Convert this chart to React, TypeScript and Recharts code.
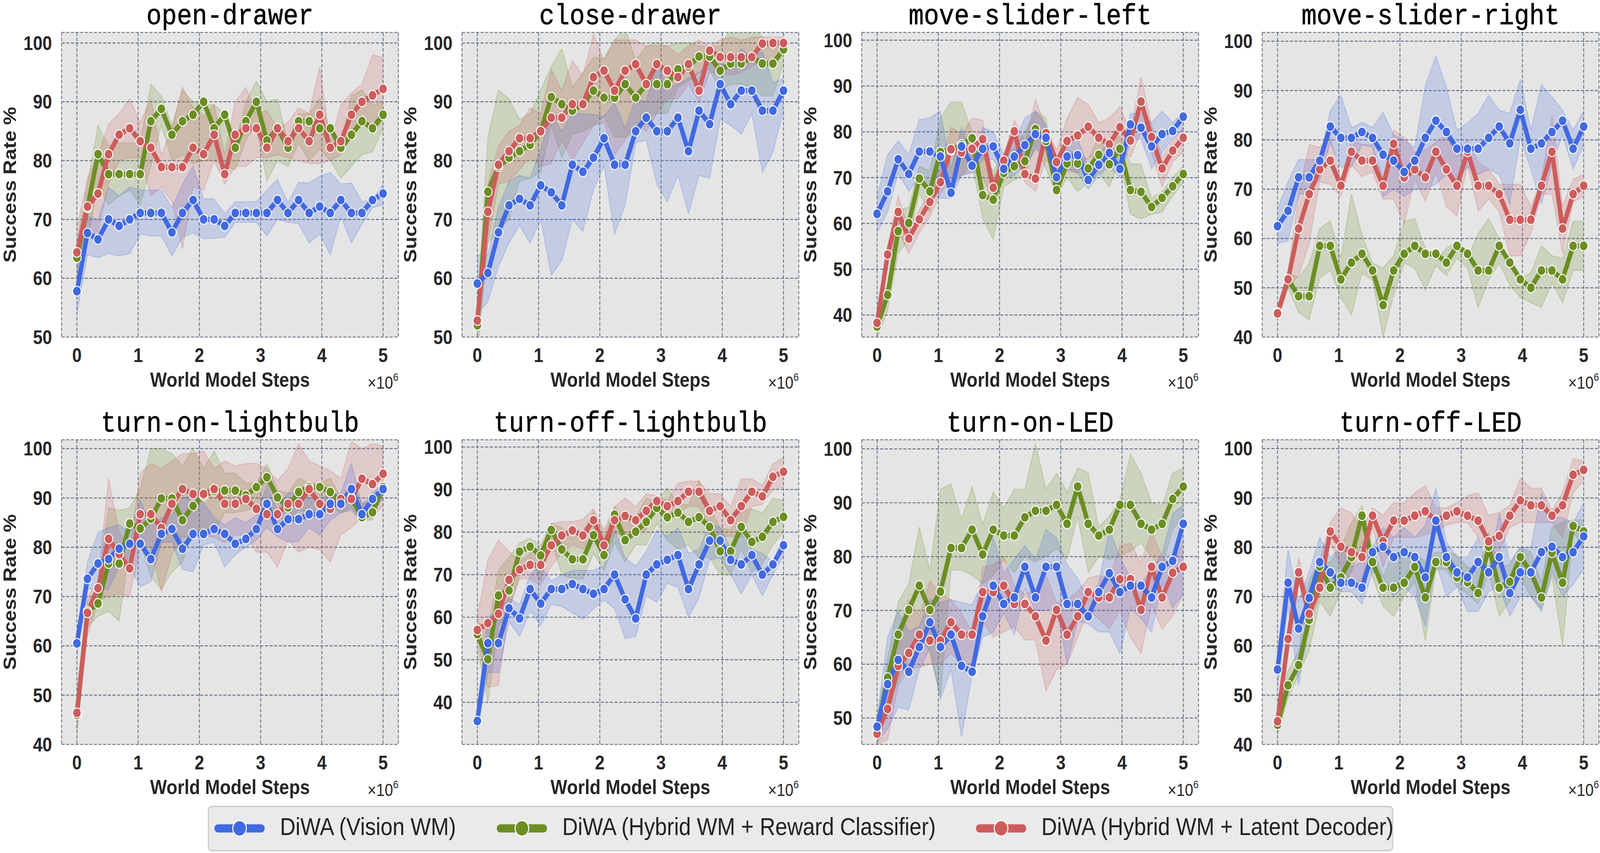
import React from "react";
import { Area, CartesianGrid, ComposedChart, Line, XAxis, YAxis } from "recharts";

const BLUE = "#4169E1";
const GREEN = "#6B8E23";
const RED = "#CD5C5C";

// world model steps at which every run was evaluated
const steps = [
  0, 172414, 344828, 517241, 689655, 862069, 1034483, 1206897, 1379310, 1551724,
  1724138, 1896552, 2068966, 2241379, 2413793, 2586207, 2758621, 2931034, 3103448, 3275862,
  3448276, 3620690, 3793103, 3965517, 4137931, 4310345, 4482759, 4655172, 4827586, 5000000,
];
const xTicks = [0, 1000000, 2000000, 3000000, 4000000, 5000000];

// ---- open-drawer
const openDrawerVision = [57.8,67.7,66.6,70.0,68.9,70.0,71.1,71.1,71.1,67.8,71.1,73.3,70.0,70.0,68.9,71.1,71.1,71.1,71.1,73.3,71.1,73.3,71.1,72.2,71.1,73.3,71.1,71.1,73.3,74.4];
const openDrawerVisionHi = [62,70.5,70,75.5,74,75.5,75,75,75,72,76,79,73.5,73.5,71,73,73,73,75,76.8,72.8,76.3,76.2,77.3,78,76,76.2,73,73.3,76];
const openDrawerVisionLo = [54,64,63.5,64.2,63.8,64.2,67.5,67.2,67.2,63.8,67,67.7,66.7,66.8,67,69.5,69.5,69.5,67.2,70,69.5,69.3,66,67.5,64,70.5,66,69.2,72,72.5];
const openDrawerReward = [63.5,72,81.1,77.7,77.7,77.7,77.7,86.7,88.8,84.4,86.7,87.8,90.0,85.5,87.8,82.2,86.7,90.0,83.4,85.5,82.2,86.7,86.7,85.5,85.5,82.2,84.4,86.7,85.5,87.8];
const openDrawerRewardHi = [66,76,86,82.5,83,83,83,93,91,86,92,90,89.5,89.5,88,83,90,93.5,90,90.5,83,88,88,90.5,85,83,91,92,89.5,90];
const openDrawerRewardLo = [58,66,76,72.5,74,75,72.5,79,86,80,81,79.5,80,80,79,78.5,83.5,86,76.5,80,79,83,80,82,80,77,79,81,81.5,85.5];
const openDrawerLatent = [64.4,72.2,74.4,81.1,84.4,85.5,83.3,82.2,78.9,78.9,78.9,82.2,81.1,84.4,77.7,84.4,85.5,85.5,82.2,85.5,83.3,85.5,83.3,87.8,82.2,83.3,87.8,90.0,91.1,92.2];
const openDrawerLatentHi = [68.5,77,81,86.2,88,90.5,86.5,90.5,81,85.5,92.5,89,87.5,89.5,81,90,92.5,88,88.5,85.5,86.5,89,88,96,83,89.5,91.5,93,98,97.5];
const openDrawerLatentLo = [60,67,68,76,80,80.5,80.5,74,75.5,73,65,75.5,75,80,76,79,79,80.5,80.5,81,80.5,80,79.5,79.5,80,81,84,87,84.5,87];

// ---- close-drawer
const closeDrawerVision = [59.1,60.9,67.8,72.4,73.5,72.4,75.8,74.6,72.4,79.3,78.1,80.5,83.8,79.3,79.3,85.0,87.3,85.0,85.0,87.3,81.6,88.5,86.2,93.0,89.6,91.9,91.9,88.5,88.5,91.9];
const closeDrawerVisionHi = [64,64,72,76.5,77.5,77,82,87.8,85,88,88,87.8,87.5,89.8,85.5,90.5,90,96.5,92.5,93,94,95,96.5,96.5,96,99,97.5,98.5,93.2,94];
const closeDrawerVisionLo = [54,56,62,66,69,66,70,60.5,63,70,68,75,79.2,67.5,72.5,83,83.5,76,73,77.5,71,77.5,77,87,86,84.5,88,78,81.5,88.5];
const closeDrawerReward = [52,74.7,79,80.5,81.6,82.7,85.0,90.8,89.6,88.5,89.6,91.9,90.7,90.7,93.0,90.7,93.0,93.0,93.0,95.5,96,97.7,97.7,95.3,96.5,96.5,97.6,96.5,96.5,98.9];
const closeDrawerRewardHi = [55,84,92,90.5,87,88,92,96,99,92.5,95,97.5,97.5,100.5,102.5,97,99.5,100,99.5,100,100,99.5,99.5,99.5,102.5,103,103,101,98.5,101];
const closeDrawerRewardLo = [47,66,68,70,76.5,77,78,86,80.5,84.5,85,86,87.5,84,84,85,87,88,88,92.5,93.5,95,95.5,92,93,93,92.5,91,91,96.5];
const closeDrawerLatent = [52.8,71.3,79.3,81.6,83.8,83.8,85.0,87.3,87.3,89.6,89.6,94.2,95.3,91.9,95.3,96.4,93.0,96.4,95.3,94.2,96.4,91.9,98.7,97.6,97.6,97.6,97.6,99.9,100,100];
const closeDrawerLatentHi = [56,76,82.5,85,86,89,88,95.5,92,97,94.5,101.5,97,100.5,100.5,100.5,99.5,99.5,99.5,98,99.5,100.5,99.5,100.5,101,100.5,101,101,101,101];
const closeDrawerLatentLo = [50,66,76,76.5,78.5,80.5,79,79.5,83.5,80,83,86,86.5,81,83.5,86.5,85,88,90.5,90.5,93,90,95,95,94.5,95,96,97,97,99];

// ---- move-slider-left
const sliderLeftVision = [62.1,67.0,74.0,70.8,75.7,75.7,74.6,66.7,76.8,72.6,76.3,76.8,71.9,74.6,77.1,79.5,78.7,70.1,74.6,74.9,69.5,72.8,75.4,71.9,81.6,80.9,76.8,79.5,80.2,83.3];
const sliderLeftVisionHi = [66,75,78,75,82.7,83,84.5,72,81,74.5,81,80,75,78,83,84.5,81.5,73,78.5,78.5,72.5,75,78,73.5,84,84,82,84.5,82,84.3];
const sliderLeftVisionLo = [58,62.5,71,67,70,66.5,65.5,65.5,70.5,71,74,74,70,70.5,73,76,76,67,72,71,67.5,70.5,72.5,70,78,78.5,72,75.5,78.5,80.5];
const sliderLeftReward = [37.5,44.4,58.3,60.1,69.8,67.0,75.6,76,77.2,78.6,66.2,65.2,71,72.5,73.6,80.6,78,67.3,73.1,73.1,72.0,75.0,72.9,76.3,67.3,66.9,63.6,65.6,68.1,70.8];
const sliderLeftRewardHi = [40,47,63,63.5,72.5,71.5,83,86.5,86.5,80,75,71.5,75,76.5,80,84.5,83,69,76,75,74,79,78,79,73,73,65.5,67,70,72.5];
const sliderLeftRewardLo = [35,41,53.5,56.5,66.5,62.5,70.5,68,70.5,73,61,56.5,68,69.5,70.5,77,72,66,70,67,69,71,68,74,62,61,62,62.5,66,69];
const sliderLeftLatent = [38.3,53.2,62.5,56.7,60.9,64.7,69.0,76.2,75.5,76.3,78.4,67.8,73.7,80.1,70.8,69.8,79.7,73.4,78.0,79.2,81.1,78.7,77.3,81.0,78.1,86.6,78.9,72.0,75.9,78.7];
const sliderLeftLatentHi = [40.5,55,66,59,63,67,72.5,81,79.5,83,82.5,70,75,82.5,78,87,81,76,83,87.5,86,82,83,85.5,80,92,81.5,74.5,78,81];
const sliderLeftLatentLo = [36,51,58.5,53.5,58,61.5,66.5,70,70.5,71.5,70,65,71.5,75.5,69,67,74,71,71.5,71,74.5,74.5,72.5,76,74.5,80,75.5,68,73.5,75.5];

// ---- move-slider-right
const sliderRightVision = [62.5,65.6,72.4,72.4,75.8,82.7,80.4,80.4,81.6,80.4,77.0,75.8,73.5,75.8,80.4,83.9,81.6,78.2,78.2,78.2,80.4,82.7,79.3,86.1,78.2,79.3,81.6,83.9,78.2,82.7];
const sliderRightVisionHi = [66,71.5,76,76,76,86,89,82.5,83.5,82.5,85.6,81,80,78.5,91,97,90.7,82,83.4,85.4,89,86,85.4,92.2,82,91.2,88.7,86,82,85.9];
const sliderRightVisionLo = [59,59.5,69,69,72,79.5,74.5,74.5,79,78.5,68.5,70,68.5,70,70,71,73,72,74.5,73,74,73,67,80.5,74,67,75,81,74,79];
const sliderRightReward = [45,51.7,48.3,48.3,58.5,58.5,51.7,55.1,56.9,53.5,46.5,53.5,56.9,58.5,56.9,56.9,55.1,58.5,56.9,53.5,53.5,58.5,55.1,51.7,50.0,53.5,53.5,51.7,58.5,58.5];
const sliderRightRewardHi = [46,53,52,55,62,63.5,56,69,60.8,55,54,56.5,63.5,64,58,55.5,58,59.5,56,61,64,60,55,52,53,58.5,56.5,56,63.5,63.5];
const sliderRightRewardLo = [43.5,50,45,43.5,52,53.5,48,44.5,53,51.5,40,48.5,55,54,49.5,54.5,52.5,56,54,46,51.5,55,50.5,48,47,46,51,47,53.5,53.5];
const sliderRightLatent = [44.8,51.7,62.0,69.0,74.0,75.8,70.7,77.6,75.8,75.8,70.7,79.2,72.4,74.0,72.4,77.6,74.0,70.7,77.6,70.7,70.7,69.0,63.8,63.8,63.8,70.7,77.6,62.0,69.0,70.7];
const sliderRightLatentHi = [46,53,69,79,78.5,80.5,72,80,79,79,72,82,80.5,77.5,78,79.5,81,76.5,80,75.5,74,71,71,71,66.5,72,85,66.5,72,73];
const sliderRightLatentLo = [43.5,50,52.5,59,71.5,71,68.5,75,72.5,73.5,68,68,63,72,67.5,73.5,66.5,64.5,75,65.5,68,65.5,56.5,56.5,61,69,69,57,67.5,68.5];

// ---- turn-on-lightbulb
const bulbOnVision = [60.5,73.6,76.7,77.6,79.7,80.7,80.7,77.6,82.7,83.7,79.7,82.7,82.7,83.7,82.7,80.7,81.7,83.7,88.8,83.7,85.7,85.7,86.7,86.7,88.8,88.8,91.8,86.7,89.8,91.8];
const bulbOnVisionHi = [63,77,83,84,84.5,83,89.5,84.5,86,86.5,90,90.5,89,86,84.5,86,85,86.5,92.5,87.5,91,91,90,90,90.5,91,97,88.5,91,93];
const bulbOnVisionLo = [58,71.5,71.5,71.5,76,76,72,73,81,81,75.5,75,80.5,81,76,78.5,80,81.5,84,82.2,81,81.2,84,82.5,85.5,87,87.5,85,87,90];
const bulbOnReward = [46,67,68.6,76.7,76.7,84.8,83.8,85.8,89.9,89.9,85.5,88.4,90.5,91.4,91.5,91.5,90.5,92.2,94.2,90.1,88.1,91.2,92.2,92.2,91.2,89.0,90,86.1,87.1,92.2];
const bulbOnRewardHi = [48,69,72,88,87.5,88,92,100,100,99,96.5,100,96,99.5,95,95,93,93,97,91.5,91,94,93,93,94,90,93,89,89,93.5];
const bulbOnRewardLo = [42,64,66,67,65,80,81,74,71.5,75,77,83,83,83,87,87,87.5,88,88,86,85.5,87.5,87,87.5,88.5,87,88,85.5,85.5,91];
const bulbOnLatent = [46.4,66.7,71.7,81.7,78.6,75.7,86.7,86.7,83.9,88.8,91.8,90.8,90.8,91.8,88.8,88.8,89.8,87.8,86.7,86.7,88.8,88.8,91.8,88.8,87.8,89.8,89.8,93.9,92.8,94.9];
const bulbOnLatentHi = [48,70,73,94,83,80,95,97,96,97.5,99,99,99.5,96,97.5,96.5,97,97,96,93.5,96,101,97.5,96.5,95.5,94,101.5,100,101,100.5];
const bulbOnLatentLo = [43,62,69,70,70.5,70,80,80,71,78.5,82,82.5,82.5,82,81,82.5,82.5,79,79,76,81.5,79,80,79.5,77,82.5,84,86,86,88.5];

// ---- turn-off-lightbulb
const bulbOffVision = [35.6,53.9,53.9,62.1,59.7,66.6,63.2,66.6,66.6,67.8,66.6,65.5,66.6,70.0,64.2,59.7,70.0,72.4,73.5,74.6,66.6,72.4,78.0,78.0,73.5,72.4,74.6,70.0,72.4,76.9];
const bulbOffVisionHi = [38,60,61.5,64.5,63,70,72,68.5,70,71,71,71,72,80.5,74,72,75.5,80.5,79,81,75,76,82,81,76,79.5,76,75,73,79];
const bulbOffVisionLo = [33.5,47,47,59,55.5,61.5,58,63,62.5,61,59.5,62,64,62,55,55.5,65,63.5,68,67,60,64.5,73.5,74,70,65.5,70,65,70,74.5];
const bulbOffReward = [56,50.1,65.1,66.3,75.4,76.6,74.5,80.5,75.9,73.6,73.6,79.3,74.6,84.1,78.1,80.1,82.4,85.7,83.5,84.6,82.4,83.5,81.2,75.5,75.5,81.2,77.7,78.9,82.4,83.6];
const bulbOffRewardHi = [59,57,71,74,77.5,78.5,77,82,81,78.5,80,85,79,86,83,83.5,88,87,90.5,86.5,86.5,92,86,81,80.5,85,85.5,84.5,88,87.5];
const bulbOffRewardLo = [53,40,58,61.5,70,74,68.5,78,70,69,69,75,71,77.5,73,77,77,82,78,76,77,74,74,70,70,76,70.5,72.5,77,80];
const bulbOffLatent = [57.0,58.6,60.8,68.8,71.2,72.3,72.3,76.9,79.2,80.4,79.2,82.8,76.9,82.8,83.8,82.8,85.0,87.3,86.1,87.3,89.5,89.5,85.0,86.1,82.8,86.1,89.5,88.4,93.0,94.2];
const bulbOffLatentHi = [60,73.5,78,75.5,73,75,76,82,82.5,82.5,83,85.5,80.5,86,88,86,89,88.5,87.5,91.5,92,92,89,89,86,92.5,92.5,91,96,97.5];
const bulbOffLatentLo = [55,43.5,44,62,69,69,67.5,72,75,77,76,79.5,73.5,79.5,79.5,79,80.5,86,84.5,84.5,86,86,80,79,79,79,86,86.5,90,90.5];

// ---- turn-on-LED
const ledOnVision = [48.4,56.3,60.8,58.6,63.2,67.8,63.2,65.5,59.7,58.6,68.9,74.6,71.2,72.4,78.1,72.4,78.1,78.1,71.2,71.2,68.9,73.4,76.9,73.4,74.6,74.6,72.4,78.1,79.2,86.1];
const ledOnVisionHi = [50,65,70,66,67,72,71.5,72,71.5,71,75.5,83.5,77,79.5,82,79.5,85,83.5,78.5,76,72,75,85,80,76,75,77.5,80.5,88,89.5];
const ledOnVisionLo = [45.5,48,52,51.5,59,63,53.5,59,46.5,58,65,66,69.5,65.5,74,70,70,70.5,60,68,67.5,66,66,62,70.5,68.5,66,75,70.5,73];
const ledOnReward = [47.5,57.5,65.5,70.1,74.6,70.1,73.5,81.6,81.6,85.0,80.4,85.0,83.9,83.9,87.3,88.5,88.5,89.6,86.1,93.0,86.1,83.9,85.0,89.6,89.6,86.1,85.0,86.1,90.7,93.0];
const ledOnRewardHi = [50,61,71.5,75,85.5,77.5,92.5,93.5,87,93,86,92,89,92.5,92.5,101,92.5,95.5,92,96.5,95.5,85.5,87.5,90.5,99,95.5,90,89.5,95.5,96.5];
const ledOnRewardLo = [45,52,57,61.5,66,62,54,77.5,77.5,76.5,75,76.5,79.5,77,80,79,80,81.5,79.5,87.5,77,80,79.5,80,81,82.5,80,78,85,87.5];
const ledOnLatent = [47.1,51.7,59.7,62.1,65.5,64.4,64.4,67.8,65.5,65.5,73.4,73.4,74.6,71.2,71.2,68.9,64.4,70.1,65.5,68.9,73.4,72.4,72.4,75.8,75.8,70.1,78.1,72.4,77.0,78.1];
const ledOnLatentHi = [49,56,66,72,69,75.5,73,72,69.5,66,78,78.5,80,74.5,73,74,76.5,71.5,72,73.5,76,76.5,76,82,82.5,79,84.5,80,78,83];
const ledOnLatentLo = [45,46,56,59,59.5,60,60,62,60,60,68,65,66,67,64.5,64.5,55,59,60,65,70,68.5,66.5,70,65,62,71,66.5,69,73];

// ---- turn-off-LED
const ledOffVision = [55.2,72.8,63.5,69.7,77.0,74.9,72.8,72.8,71.8,79.0,80.1,78.0,79.0,78.0,73.9,85.4,78.0,74.9,73.9,77.0,74.9,78.0,70.7,74.9,74.9,79.0,80.1,78.0,79.0,82.2];
const ledOffVisionHi = [58,79.5,69,75,82,78,80,76,77,80,84,82,84,82,84.5,92,81,78,78,82,75,87,77,80,80,91,86,86,85,89];
const ledOffVisionLo = [51.5,68,52,64.5,72,72,71,71,68.5,75,74,70,72,70,64,77,70,72,67,67,71,72,66,70,70,67,75,70,72.5,75.5];
const ledOffReward = [44,52.0,56.1,65.3,76.1,71.8,73.9,78.0,86.4,77.0,71.8,71.8,72.8,76.0,69.8,77.0,77.0,73.9,72.9,70.7,80.1,71.8,73.0,78.0,75.0,69.8,78.9,72.8,84.3,83.2];
const ledOffRewardHi = [46,55,59,73.5,77,77,80,85,88.5,80,74,79,78.5,79,77,79,79,78.5,76,75,83,76,76.5,80,79,73,84,85,85.5,85.5];
const ledOffRewardLo = [42,49.5,54,59,69,66,71,75,81,74,68,66,70,73,61,75.5,75.5,72,70.5,68.5,75,66,69,74,70,67.5,74,60,83,80];
const ledOffLatent = [44.7,61.4,74.9,66.5,71.8,83.2,80.1,79.0,78.0,86.4,81.2,85.4,85.4,86.4,87.3,85.5,86.4,87.3,86.4,85.4,81.2,82.3,86.4,89.5,88.5,88.5,86.4,88.5,94.7,95.7];
const ledOffLatentHi = [47,64,78,69,77.5,85,88,87,83.5,88,86.5,89,89,91,92.5,88,88,89,90.5,91,86.5,87,88.5,94,92,92,87.5,91,98,97.5];
const ledOffLatentLo = [42,58,73,64,70,81,76,73,73,84,76,82,82,82,82.5,83,84.5,85,85,82,78,79,84,85,85,85,85,82,91,93.5];

const ticks50 = [50, 60, 70, 80, 90, 100];
const ticks40 = [40, 50, 60, 70, 80, 90, 100];

const tasks = [
  { name: "open-drawer", domain: [50, 101.8], ticks: ticks50,
    v: openDrawerVision, vLo: openDrawerVisionLo, vHi: openDrawerVisionHi,
    r: openDrawerReward, rLo: openDrawerRewardLo, rHi: openDrawerRewardHi,
    l: openDrawerLatent, lLo: openDrawerLatentLo, lHi: openDrawerLatentHi },
  { name: "close-drawer", domain: [50, 101.8], ticks: ticks50,
    v: closeDrawerVision, vLo: closeDrawerVisionLo, vHi: closeDrawerVisionHi,
    r: closeDrawerReward, rLo: closeDrawerRewardLo, rHi: closeDrawerRewardHi,
    l: closeDrawerLatent, lLo: closeDrawerLatentLo, lHi: closeDrawerLatentHi },
  { name: "move-slider-left", domain: [35.2, 101.7], ticks: ticks40,
    v: sliderLeftVision, vLo: sliderLeftVisionLo, vHi: sliderLeftVisionHi,
    r: sliderLeftReward, rLo: sliderLeftRewardLo, rHi: sliderLeftRewardHi,
    l: sliderLeftLatent, lLo: sliderLeftLatentLo, lHi: sliderLeftLatentHi },
  { name: "move-slider-right", domain: [40, 101.8], ticks: ticks40,
    v: sliderRightVision, vLo: sliderRightVisionLo, vHi: sliderRightVisionHi,
    r: sliderRightReward, rLo: sliderRightRewardLo, rHi: sliderRightRewardHi,
    l: sliderRightLatent, lLo: sliderRightLatentLo, lHi: sliderRightLatentHi },
  { name: "turn-on-lightbulb", domain: [40, 101.8], ticks: ticks40,
    v: bulbOnVision, vLo: bulbOnVisionLo, vHi: bulbOnVisionHi,
    r: bulbOnReward, rLo: bulbOnRewardLo, rHi: bulbOnRewardHi,
    l: bulbOnLatent, lLo: bulbOnLatentLo, lHi: bulbOnLatentHi },
  { name: "turn-off-lightbulb", domain: [30.1, 101.7], ticks: ticks40,
    v: bulbOffVision, vLo: bulbOffVisionLo, vHi: bulbOffVisionHi,
    r: bulbOffReward, rLo: bulbOffRewardLo, rHi: bulbOffRewardHi,
    l: bulbOffLatent, lLo: bulbOffLatentLo, lHi: bulbOffLatentHi },
  { name: "turn-on-LED", domain: [45.1, 101.7], ticks: ticks50,
    v: ledOnVision, vLo: ledOnVisionLo, vHi: ledOnVisionHi,
    r: ledOnReward, rLo: ledOnRewardLo, rHi: ledOnRewardHi,
    l: ledOnLatent, lLo: ledOnLatentLo, lHi: ledOnLatentHi },
  { name: "turn-off-LED", domain: [40, 101.8], ticks: ticks40,
    v: ledOffVision, vLo: ledOffVisionLo, vHi: ledOffVisionHi,
    r: ledOffReward, rLo: ledOffRewardLo, rHi: ledOffRewardHi,
    l: ledOffLatent, lLo: ledOffLatentLo, lHi: ledOffLatentHi },
];

const legendItems = [
  { label: "DiWA (Vision WM)", color: BLUE, cx: 700 },
  { label: "DiWA (Hybrid WM + Reward Classifier)", color: GREEN, cx: 1525 },
  { label: "DiWA (Hybrid WM + Latent Decoder)", color: RED, cx: 2925 },
];

// layout is drawn on the 4675 x 2184 grid of the figure, then squeezed into the 4096 px wide page
const FIG_W = 4675;
const FIG_H = 2184;
const PAGE_W = 4096;
const plotLefts = [180, 1350, 2518, 3688];
const plotTops = [83, 1126];
const PW = 984;
const PH = 780;

const SANS = "'Liberation Sans', Arial, sans-serif";
const MONO = "'Liberation Mono', 'Courier New', monospace";
const tickStyle = { fontSize: 50, fontWeight: 700, fill: "#262626", fontFamily: SANS };

const makeDot = (color: string) => (p: any) => (
  <circle key={`d${p.index}`} cx={p.cx} cy={p.cy} r={12.5} fill={color} stroke="#fff" strokeWidth={2.5} />
);

function Panel({ task, left, top }: any) {
  const data = steps.map((s, i) => ({
    s,
    v: task.v[i], vB: [task.vLo[i], task.vHi[i]],
    r: task.r[i], rB: [task.rLo[i], task.rHi[i]],
    l: task.l[i], lB: [task.lLo[i], task.lHi[i]],
  }));
  const band = (key: string, color: string) => (
    <Area key={key} type="linear" dataKey={key} fill={color} fillOpacity={0.2} stroke={color}
      strokeOpacity={0.25} strokeWidth={2.5} isAnimationActive={false} dot={false} activeDot={false} />
  );
  const line = (key: string, color: string) => (
    <Line key={key} type="linear" dataKey={key} stroke={color} strokeWidth={13} strokeLinejoin="round"
      dot={makeDot(color)} activeDot={false} isAnimationActive={false} />
  );
  return (
    <div style={{ position: "absolute", left: left - 180, top: top - 83 }}>
      <ComposedChart width={1166} height={1043} data={data} margin={{ top: 83, right: 2, bottom: 0, left: 0 }}>
        <CartesianGrid fill="#E5E5E5" stroke="#6B7B8C" strokeDasharray="9 4.5" strokeWidth={2.7} />
        <XAxis dataKey="s" type="number" domain={[-250000, 5250000]} ticks={xTicks} interval={0}
          tickFormatter={(v: number) => String(v / 1000000)} axisLine={false} tickLine={false}
          tickSize={0} tickMargin={29} height={180} tick={tickStyle} allowDataOverflow />
        <YAxis type="number" domain={task.domain} ticks={task.ticks} interval={0} axisLine={false}
          tickLine={false} tickSize={0} tickMargin={28} width={180} tick={tickStyle} allowDataOverflow />
        {band("rB", GREEN)}
        {band("lB", RED)}
        {band("vB", BLUE)}
        {line("r", GREEN)}
        {line("l", RED)}
        {line("v", BLUE)}
      </ComposedChart>
    </div>
  );
}

export default function App() {
  return (
    <div style={{ position: "absolute", left: 0, top: 0, width: PAGE_W, height: FIG_H, overflow: "hidden", background: "#fff" }}>
      <div style={{ position: "absolute", left: 0, top: 0, width: FIG_W, height: FIG_H,
        transform: `scaleX(${PAGE_W / FIG_W})`, transformOrigin: "0 0" }}>
        {tasks.map((t, k) => (
          <Panel key={t.name} task={t} left={plotLefts[k % 4]} top={plotTops[Math.floor(k / 4)]} />
        ))}
        <svg width={FIG_W} height={FIG_H} style={{ position: "absolute", left: 0, top: 0, pointerEvents: "none" }}>
          {tasks.map((t, k) => {
            const x0 = plotLefts[k % 4];
            const y0 = plotTops[Math.floor(k / 4)];
            return (
              <g key={t.name}>
                <text x={x0 + PW / 2} y={y0 - 21} textAnchor="middle" fontFamily={MONO}
                  fontSize={74} fill="#000" stroke="#000" strokeWidth={0.8}>{t.name}</text>
                <text transform={`translate(${x0 - 133},${y0 + PH / 2}) rotate(-90)`} textAnchor="middle"
                  fontFamily={SANS} fontWeight={700} fontSize={52} fill="#262626">Success Rate %</text>
                <text x={x0 + PW / 2} y={y0 + PH + 127} textAnchor="middle" fontFamily={SANS} fontWeight={700}
                  fontSize={52} fill="#262626">World Model Steps</text>
                <text x={x0 + PW} y={y0 + PH + 132} textAnchor="end" fontFamily={SANS} fontSize={44} fill="#262626">
                  ×10<tspan fontSize={28} dy={-20}>6</tspan>
                </text>
              </g>
            );
          })}
          <rect x={609} y={2065} width={3460} height={113} rx={10} fill="#EAEAEA" stroke="#D0D0D0" strokeWidth={4} />
          {legendItems.map((it) => (
            <g key={it.label}>
              <line x1={it.cx - 63} x2={it.cx + 63} y1={2121} y2={2121} stroke={it.color} strokeWidth={21} strokeLinecap="round" />
              <circle cx={it.cx} cy={2121} r={20} fill={it.color} stroke="#fff" strokeWidth={3} />
              <text x={it.cx + 118} y={2138} fontFamily={SANS} fontSize={63} fill="#222">{it.label}</text>
            </g>
          ))}
        </svg>
      </div>
    </div>
  );
}
